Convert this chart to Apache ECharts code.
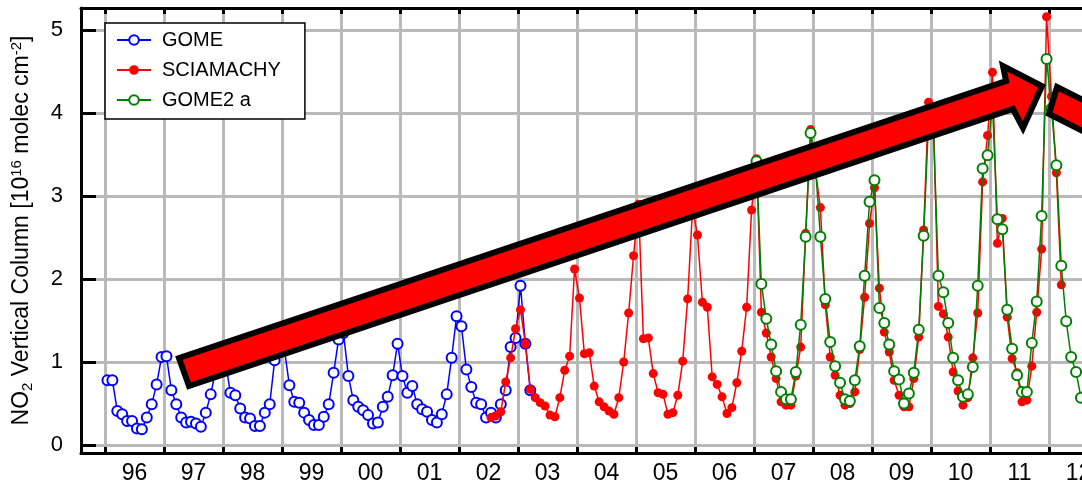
<!DOCTYPE html>
<html>
<head>
<meta charset="utf-8">
<script src="https://cdn.jsdelivr.net/npm/echarts@6/dist/echarts.min.js"></script>
<style>
html,body{margin:0;padding:0;background:#ffffff;}
#chart{width:1082px;height:484px;}
</style>
</head>
<body>
<div id="chart"></div>
<script>
// ---- data (monthly means, plotted at mid-month) ----
const gomeStart = [1996, 1];      // year, first month
const gomeValues = [
  0.78,0.78,0.41,0.37,0.29,0.29,0.20,0.19,0.33,0.49,0.73,1.06,
  1.07,0.66,0.49,0.33,0.27,0.28,0.26,0.22,0.39,0.61,0.90,1.05,
  1.00,0.63,0.60,0.44,0.33,0.32,0.23,0.23,0.39,0.49,1.02,1.20,
  1.15,0.72,0.52,0.51,0.39,0.30,0.24,0.24,0.34,0.49,0.87,1.27,
  1.35,0.83,0.54,0.46,0.42,0.36,0.26,0.27,0.46,0.58,0.84,1.22,
  0.83,0.63,0.71,0.49,0.43,0.40,0.30,0.27,0.37,0.61,1.05,1.55,
  1.43,0.91,0.70,0.51,0.49,0.33,0.39,0.33,0.49,0.66,1.18,1.29,
  1.92,1.22,0.66
];
const sciaStart = [2002, 7];
const sciaValues = [
  0.33,0.35,0.40,0.76,1.05,1.40,
  1.63,1.22,0.67,0.57,0.51,0.47,0.36,0.34,0.57,0.90,1.07,2.12,
  1.77,1.10,1.11,0.71,0.52,0.46,0.41,0.37,0.57,1.00,1.59,2.28,
  2.90,1.28,1.29,0.86,0.63,0.61,0.37,0.39,0.60,1.01,1.76,2.85,
  2.53,1.72,1.66,0.82,0.73,0.58,0.38,0.45,0.75,1.13,1.66,2.83,
  3.45,1.60,1.35,1.06,0.80,0.52,0.48,0.48,0.83,1.18,2.55,3.80,
  3.30,2.86,1.69,1.06,0.84,0.60,0.48,0.50,0.64,1.15,1.78,2.67,
  3.10,1.89,1.36,1.12,0.78,0.60,0.46,0.46,0.80,1.30,2.59,4.13,
  3.90,1.67,1.58,1.30,0.88,0.65,0.48,0.57,1.05,1.59,3.17,3.73,
  4.49,2.43,2.73,1.54,1.04,0.87,0.52,0.54,0.95,1.60,2.36,5.16,
  4.20,3.28,1.93
];
const gome2Start = [2007, 1];
const gome2Values = [
  3.42,1.94,1.52,1.21,0.89,0.64,0.55,0.55,0.88,1.45,2.51,3.76,
  3.35,2.51,1.76,1.24,0.95,0.75,0.55,0.53,0.78,1.19,2.04,2.93,
  3.19,1.65,1.47,1.21,0.89,0.79,0.50,0.62,0.87,1.39,2.52,3.90,
  3.80,2.04,1.84,1.47,1.05,0.78,0.58,0.61,0.94,1.92,3.33,3.49,
  4.10,2.72,2.60,1.63,1.16,0.84,0.64,0.64,1.23,1.73,2.76,4.65,
  4.05,3.37,2.16,1.49,1.06,0.88,0.57
];
const yearTicks = [1996,1997,1998,1999,2000,2001,2002,2003,2004,2005,2006,2007,2008,2009,2010,2011,2012];
const yearLabels = ['96','97','98','99','00','01','02','03','04','05','06','07','08','09','10','11','12'];
const yTicks = [0,1,2,3,4,5];
const seriesNames = ['GOME','SCIAMACHY','GOME2 a'];

function toPoints(start, vals) {
  return vals.map(function (v, i) {
    const m = (start[1] - 1) + i;
    return [start[0] + (m + 0.5) / 12, v];
  });
}
const labelPositions = yearLabels.map(function (_, i) { return yearTicks[i] + 0.5; });

const FONT = '"Liberation Sans", Arial, Helvetica, sans-serif';
const X_MIN = 1995.5932, X_MAX = 2012.559;
const Y_MIN = -0.0964, Y_MAX = 5.265;

const chart = echarts.init(document.getElementById('chart'), null, {renderer: 'canvas'});
const option = {
  animation: false,
  backgroundColor: '#ffffff',
  grid: {left: 81, top: 8, width: 1001, height: 445, containLabel: false, outerBoundsMode: 'none'},
  legend: {
    orient: 'vertical', left: 105, top: 23,
    backgroundColor: '#ffffff', borderColor: '#000000', borderWidth: 1.5,
    padding: [7, 24, 9, 11],
    itemWidth: 34, itemHeight: 12, itemGap: 10,
    textStyle: {fontFamily: FONT, fontSize: 20, color: '#000', lineHeight: 20, padding: [0, 0, 0, 6]},
    data: seriesNames
  },
  xAxis: [{
    type: 'value', position: 'bottom', min: X_MIN, max: X_MAX,
    axisLine: {show: true, onZero: false, lineStyle: {color: '#000', width: 3}},
    axisTick: {show: true, inside: true, length: 6, customValues: yearTicks, lineStyle: {color: '#000', width: 3}},
    axisLabel: {
      show: true, customValues: labelPositions, margin: 9, hideOverlap: false,
      fontFamily: FONT, fontSize: 23, color: '#000',
      formatter: function (v) { return yearLabels[Math.round(v - 0.5) - yearTicks[0]] || ''; }
    },
    splitLine: {show: true, lineStyle: {color: '#b9b9b9', width: 3}}
  }, {
    type: 'value', position: 'top', min: X_MIN, max: X_MAX,
    axisLine: {show: true, onZero: false, lineStyle: {color: '#000', width: 3}},
    axisTick: {show: true, inside: true, length: 6, customValues: yearTicks, lineStyle: {color: '#000', width: 3}},
    axisLabel: {show: false},
    splitLine: {show: false}
  }],
  yAxis: [{
    type: 'value', min: Y_MIN, max: Y_MAX,
    name: '{t|NO}{s|2}{t| Vertical Column [10}{p|16}{t| molec cm}{p|-2}{t|]}',
    nameLocation: 'middle', nameGap: 46, nameRotate: 90,
    nameTextStyle: {
      fontFamily: FONT, color: '#000',
      rich: {
        t: {fontFamily: FONT, fontSize: 23, color: '#000', lineHeight: 26},
        s: {fontFamily: FONT, fontSize: 15, color: '#000', verticalAlign: 'bottom', lineHeight: 26},
        p: {fontFamily: FONT, fontSize: 15, color: '#000', verticalAlign: 'top', lineHeight: 26}
      }
    },
    axisLine: {show: true, onZero: false, lineStyle: {color: '#000', width: 3}},
    axisTick: {show: true, inside: true, length: 15, customValues: yTicks, lineStyle: {color: '#000', width: 3}},
    axisLabel: {show: true, customValues: yTicks, margin: 18, fontFamily: FONT, fontSize: 22, color: '#000'},
    splitLine: {show: true, lineStyle: {color: '#b9b9b9', width: 3}}
  }],
  series: [{
    name: seriesNames[0], type: 'line', data: toPoints(gomeStart, gomeValues),
    symbol: 'emptyCircle', symbolSize: 10, showAllSymbol: true,
    lineStyle: {color: '#0000ff', width: 1.5},
    itemStyle: {color: '#0000ff', borderColor: '#0000ff', borderWidth: 2},
    z: 2
  }, {
    name: seriesNames[1], type: 'line', data: toPoints(sciaStart, sciaValues),
    symbol: 'circle', symbolSize: 9, showAllSymbol: true,
    lineStyle: {color: '#ff0000', width: 1.5},
    itemStyle: {color: '#ff0000'},
    z: 3
  }, {
    name: seriesNames[2], type: 'line', data: toPoints(gome2Start, gome2Values),
    symbol: 'emptyCircle', symbolSize: 10, showAllSymbol: true,
    lineStyle: {color: '#008000', width: 1.5},
    itemStyle: {color: '#008000', borderColor: '#008000', borderWidth: 2},
    z: 4
  }],
  graphic: [{
    type: 'polygon', z: 100,
    shape: {points: [[179, 358], [1006, 81], [1003, 66], [1042, 86], [1023, 128], [1013, 109], [189, 386]]},
    style: {fill: '#ff0000', stroke: '#000000', lineWidth: 6, lineJoin: 'miter'}
  }, {
    type: 'polygon', z: 100,
    shape: {points: [[1057, 87], [1130, 124], [1118, 149], [1049, 114]]},
    style: {fill: '#ff0000', stroke: '#000000', lineWidth: 6, lineJoin: 'miter'}
  }]
};
chart.setOption(option);
</script>
</body>
</html>
